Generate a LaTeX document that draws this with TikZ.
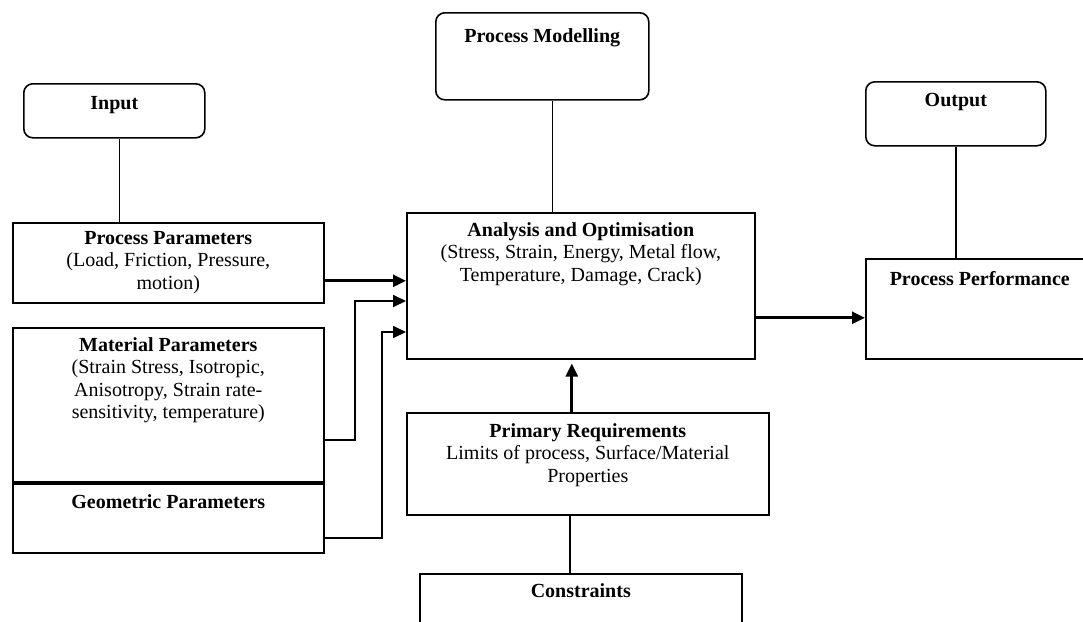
\documentclass[tikz,border=0pt]{standalone}
\usepackage{fontspec}
\setmainfont{Liberation Serif}
\usetikzlibrary{positioning,arrows.meta,calc}

\begin{document}
\begin{tikzpicture}[x=1pt,y=-1pt,
  font=\fontsize{20}{22.5}\selectfont,
  box/.style={draw,line width=1.6pt,anchor=north west,inner sep=0pt},
  rbox/.style={box,rounded corners=9pt},
  lbl/.style={anchor=north,align=center,inner sep=0pt,yshift=-#1},
  lbl/.default=10pt,
  link/.style={line width=1.6pt},
  feed/.style={line width=1.8pt,-{Triangle[length=13pt,width=12pt]}},
  flow/.style={line width=2.8pt,-{Triangle[length=13pt,width=12pt]}}
]
\clip (0,0) rectangle (1083,621);

% the rounded boxes on top
\node[rbox,minimum width=181pt,minimum height=54pt,
  label={[lbl=13pt]north:{\textbf{Input}}}] (inp) at (23,83) {};
\node[rbox,minimum width=213pt,minimum height=87pt,
  label={[lbl=16pt]north:{\textbf{Process Modelling}}}] (pm) at (435,12) {};
\node[rbox,minimum width=180pt,minimum height=64pt,
  label={[lbl=12pt]north:{\textbf{Output}}}] (outp) at (865,81) {};

% the parameter boxes
\node[box,minimum width=311pt,minimum height=80pt,
  label={[lbl=9pt]north:{\textbf{Process Parameters}\\(Load, Friction, Pressure,\\motion)}}] (pp) at (12,222) {};
\node[box,minimum width=311pt,minimum height=156pt,
  label={[lbl]north:{\textbf{Material Parameters}\\(Strain Stress, Isotropic,\\Anisotropy, Strain rate-\\sensitivity, temperature)}}] (mat) at (12,327) {};
\node[box,minimum width=311pt,minimum height=70pt,
  label={[lbl=12pt]north:{\textbf{Geometric Parameters}}}] (geo) at (12,482) {};
\draw[line width=2.6pt] (geo.north west) -- (geo.north east);

% the middle column
\node[box,minimum width=348pt,minimum height=146pt,
  label={[lbl]north:{\textbf{Analysis and Optimisation}\\(Stress, Strain, Energy, Metal flow,\\Temperature, Damage, Crack)}}] (ana) at (406,212) {};
\node[box,minimum width=362pt,minimum height=102pt,
  label={[lbl=11pt]north:{\textbf{Primary Requirements}\\Limits of process, Surface/Material\\Properties}}] (pr) at (406,412) {};
\node[box,minimum width=322pt,minimum height=80pt,
  label={[lbl]north:{\textbf{Constraints}}}] (con) at (419,573) {};

% the result
\node[box,minimum width=228pt,minimum height=100pt,
  label={[lbl=13pt]north:{\textbf{Process Performance}}}] (ppf) at (865,258) {};

% the plain links
\draw[link] ([xshift=5pt]inp.south) -- ([xshift=5pt]inp.south |- pp.north);
\draw[link] ([xshift=10pt]pm.south) -- ([xshift=10pt]pm.south |- ana.north);
\draw[link] (outp.south) -- (outp.south |- ppf.north);
\draw[link] ([xshift=-18pt]pr.south) -- ([xshift=-18pt]pr.south |- con.north);

% the arrows into the analysis
\coordinate (a2) at ([yshift=-89pt]ana.north west);
\coordinate (a3) at ([yshift=-120pt]ana.north west);
\draw[flow] ([yshift=-18pt]pp.east) -- ([yshift=-18pt]pp.east -| ana.west);
\draw[feed] ([yshift=-34pt]mat.east) -- ++(30,0) |- (a2);
\draw[feed] ([yshift=-20pt]geo.east) -- ++(57,0) |- (a3);
\draw[flow,shorten >=4pt] ([xshift=-16pt]pr.north) -- ([xshift=-16pt]pr.north |- ana.south);

% the arrow out
\draw[flow] ([yshift=-32pt]ana.east) -- ([yshift=-32pt]ana.east -| ppf.west);
\end{tikzpicture}
\end{document}
